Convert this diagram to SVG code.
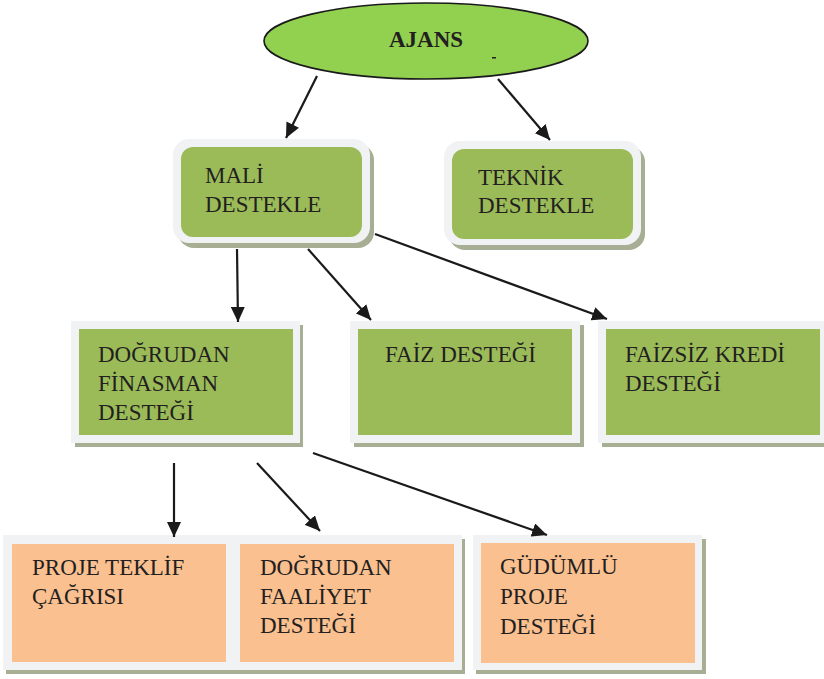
<svg xmlns="http://www.w3.org/2000/svg" width="824" height="679" viewBox="0 0 824 679">
<defs>
<style>
.t{font-family:"Liberation Serif","Times New Roman",serif;font-size:23px;fill:#231F20}
.b{font-weight:bold;font-size:23px}
.frame{fill:#F1F2F4}
.sh{fill:#A6AE93}
.g{fill:#9BBB59}
.o{fill:#FAC090}
.c{stroke:#1A1A1A;stroke-width:2.2;fill:none;marker-end:url(#ah)}
</style>
<marker id="ah" markerUnits="userSpaceOnUse" markerWidth="16" markerHeight="14" refX="15" refY="7" orient="auto">
<path d="M0,0 L15,7 L0,14 z" fill="#1A1A1A"/>
</marker>
</defs>
<rect width="824" height="679" fill="#FFFFFF"/>

<g id="ajans">
<ellipse cx="426" cy="41" rx="162" ry="38" fill="#92D050" stroke="#1A1A1A" stroke-width="1.6"/>
<text class="t b" x="426" y="47" text-anchor="middle">AJANS</text>
<rect x="492" y="57" width="4" height="1.5" fill="#231F20"/>
</g>

<g id="mali">
<rect class="sh" x="178" y="144" width="196" height="104" rx="16"/>
<rect class="frame" x="173" y="139" width="197" height="104" rx="16"/>
<rect class="g" x="181" y="147" width="181" height="90" rx="12"/>
<text class="t" x="205" y="183">MALİ</text>
<text class="t" x="205" y="212">DESTEKLE</text>
</g>

<g id="teknik">
<rect class="sh" x="449" y="146" width="196" height="104" rx="16"/>
<rect class="frame" x="444" y="141" width="197" height="104" rx="16"/>
<rect class="g" x="452" y="149" width="181" height="90" rx="12"/>
<text class="t" x="478" y="185">TEKNİK</text>
<text class="t" x="478" y="213">DESTEKLE</text>
</g>

<g id="dogrudan-finansman">
<rect class="sh" x="75" y="325" width="228" height="122"/>
<rect class="frame" x="71" y="321" width="229" height="122"/>
<rect class="g" x="79" y="329" width="214" height="106"/>
<text class="t" x="98" y="362">DOĞRUDAN</text>
<text class="t" x="98" y="391">FİNASMAN</text>
<text class="t" x="98" y="420">DESTEĞİ</text>
</g>

<g id="faiz">
<rect class="sh" x="354" y="325" width="230" height="122"/>
<rect class="frame" x="350" y="321" width="230" height="122"/>
<rect class="g" x="358" y="329" width="214" height="106"/>
<text class="t" x="385" y="362">FAİZ DESTEĞİ</text>
</g>

<g id="faizsiz">
<rect class="sh" x="602" y="325" width="222" height="122"/>
<rect class="frame" x="598" y="321" width="226" height="122"/>
<rect class="g" x="606" y="329" width="214" height="106"/>
<text class="t" x="625" y="362">FAİZSİZ KREDİ</text>
<text class="t" x="625" y="391">DESTEĞİ</text>
</g>

<g id="proje-teklif">
<rect class="sh" x="6" y="539" width="230" height="135"/>
<rect class="frame" x="3" y="535" width="231" height="135"/>
<rect class="o" x="12" y="544" width="214" height="118"/>
<text class="t" x="32" y="575">PROJE TEKLİF</text>
<text class="t" x="32" y="604">ÇAĞRISI</text>
</g>

<g id="dogrudan-faaliyet">
<rect class="sh" x="235" y="539" width="230" height="135"/>
<rect class="frame" x="232" y="535" width="230" height="135"/>
<rect class="o" x="240" y="544" width="214" height="118"/>
<text class="t" x="260" y="575">DOĞRUDAN</text>
<text class="t" x="260" y="604">FAALİYET</text>
<text class="t" x="260" y="633">DESTEĞİ</text>
</g>

<g id="gudumlu">
<rect class="sh" x="476" y="539" width="230" height="135"/>
<rect class="frame" x="473" y="535" width="229" height="135"/>
<rect class="o" x="481" y="543" width="214" height="120"/>
<text class="t" x="500" y="574">GÜDÜMLÜ</text>
<text class="t" x="500" y="604">PROJE</text>
<text class="t" x="500" y="634">DESTEĞİ</text>
</g>

<g id="connectors">
<line class="c" x1="317" y1="76" x2="286" y2="138"/>
<line class="c" x1="498" y1="79" x2="550" y2="140"/>
<line class="c" x1="237" y1="249" x2="238" y2="322"/>
<line class="c" x1="308" y1="249" x2="371" y2="320"/>
<line class="c" x1="375" y1="234" x2="607" y2="319"/>
<line class="c" x1="174" y1="463" x2="174" y2="537"/>
<line class="c" x1="257" y1="463" x2="320" y2="531"/>
<line class="c" x1="313" y1="453" x2="547" y2="535"/>
</g>
</svg>
